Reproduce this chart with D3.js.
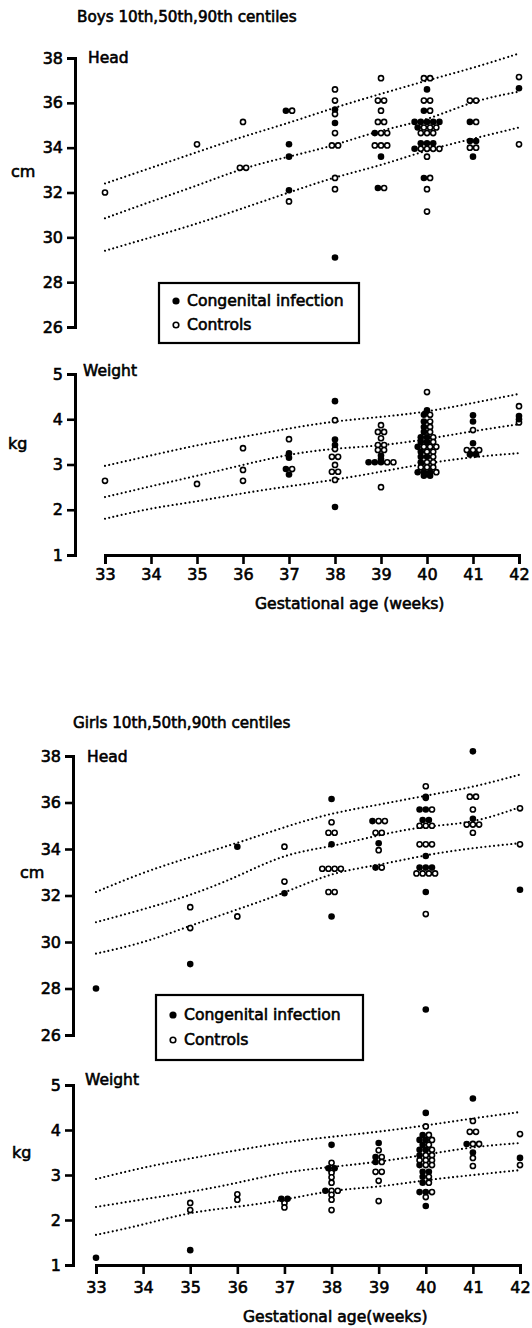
<!DOCTYPE html>
<html><head><meta charset="utf-8">
<script src="https://cdn.jsdelivr.net/npm/d3@7"></script>
<style>
body{margin:0;background:#fff}
svg{display:block}
text{font-family:"DejaVu Sans",sans-serif;fill:#000;stroke:#000;stroke-width:0.6px}
</style>
</head><body>
<svg id="c" width="532" height="1328"></svg>
<script>
// ---------- categories / ticks ----------
const weeks = [33,34,35,36,37,38,39,40,41,42];
const headTicks = [26,28,30,32,34,36,38];
const weightTicks = [1,2,3,4,5];

// ---------- centile curves (10th, 50th, 90th) ----------
const boysHead10 = [29.4,30.0,30.6,31.3,32.0,32.7,33.2,33.9,34.4,34.9];
const boysHead50 = [30.85,31.6,32.3,33.1,33.6,34.1,34.8,35.2,36.1,36.5];
const boysHead90 = [32.4,33.1,33.8,34.5,35.1,35.8,36.4,37.0,37.55,38.2];
const boysWeight10 = [1.8,2.04,2.18,2.37,2.52,2.66,2.84,3.03,3.17,3.25];
const boysWeight50 = [2.28,2.52,2.75,2.99,3.23,3.36,3.41,3.56,3.74,3.89];
const boysWeight90 = [2.97,3.2,3.43,3.61,3.8,3.96,4.05,4.16,4.36,4.56];
const girlsHead10 = [29.5,29.95,30.7,31.4,32.1,33.0,33.3,33.75,34.05,34.25];
const girlsHead50 = [30.85,31.4,32.0,32.8,33.8,34.1,34.6,35.0,35.1,35.8];
const girlsHead90 = [32.15,33.0,33.65,34.25,34.95,35.55,35.9,36.3,36.65,37.2];
const girlsWeight10 = [1.67,1.89,2.18,2.29,2.44,2.67,2.73,2.89,3.0,3.11];
const girlsWeight50 = [2.29,2.46,2.62,2.82,3.07,3.18,3.29,3.45,3.63,3.71];
const girlsWeight90 = [2.91,3.17,3.37,3.55,3.73,3.85,3.96,4.1,4.26,4.4];

// ---------- observations [week, value] ----------
const boysHeadInfection = [
 [37,35.65],[37,34.15],[37,33.6],[37,32.1],
 [38,35.7],[38,35.1],[38,29.1],
 [39,34.65],[39,33.6],[39,32.2],
 [40,36.6],[40,35.65],[40,35.15],[40,35.15],[40,35.15],[40,35.15],[40,35.15],[40,34.9],[40,34.2],[40,34.2],[40,34.2],[40,33.95],[40,32.65],
 [41,35.15],[41,34.3],[41,34.3],[41,33.6],
 [42,36.65]];
const boysHeadControls = [
 [33,32.0],[35,34.15],[36,35.15],[36,33.1],[36,33.1],[37,35.65],[37,31.6],
 [38,36.6],[38,36.1],[38,35.5],[38,34.65],[38,34.1],[38,34.1],[38,32.65],[38,32.15],
 [39,37.1],[39,36.1],[39,36.1],[39,35.65],[39,35.15],[39,35.15],[39,34.65],[39,34.65],[39,34.1],[39,34.1],[39,34.1],[39,32.2],
 [40,37.1],[40,37.1],[40,36.1],[40,36.1],[40,35.65],[40,34.9],[40,34.9],[40,34.9],[40,34.65],[40,34.65],[40,34.65],
 [40,33.95],[40,33.95],[40,33.95],[40,33.95],[40,33.6],[40,32.65],[40,32.15],[40,31.15],
 [41,36.1],[41,36.1],[41,35.15],[41,34.0],[41,34.0],
 [42,37.15],[42,34.15]];
const boysWeightInfection = [
 [37,3.25],[37,3.15],[37,2.9],[37,2.78],
 [38,4.4],[38,3.55],[38,3.43],[38,2.06],
 [39,3.2],[39,3.12],[39,3.05],[39,3.05],[39,3.05],
 [40,4.2],[40,4.1],[40,3.95],[40,3.83],[40,3.72],[40,3.6],[40,3.6],[40,3.5],[40,3.5],[40,3.39],[40,3.28],[40,3.17],[40,3.17],[40,3.05],[40,2.83],[40,2.83],[40,2.83],[40,2.75],[40,2.75],
 [41,4.09],[41,3.95],[41,3.47],[41,3.22],[41,3.22],
 [42,4.07],[42,4.0]];
const boysWeightControls = [
 [33,2.64],[35,2.57],[36,3.36],[36,2.88],[36,2.64],[37,3.56],[37,2.9],
 [38,3.98],[38,3.34],[38,3.17],[38,3.17],[38,2.99],[38,2.84],[38,2.84],[38,2.66],
 [39,3.87],[39,3.72],[39,3.72],[39,3.58],[39,3.43],[39,3.43],[39,3.32],[39,3.32],[39,3.05],[39,3.05],[39,2.5],
 [40,4.6],[40,4.1],[40,3.95],[40,3.83],[40,3.72],[40,3.6],[40,3.5],[40,3.39],[40,3.39],[40,3.39],[40,3.28],[40,3.28],[40,3.17],[40,3.05],[40,3.05],[40,2.94],[40,2.94],[40,2.94],[40,2.83],
 [41,3.76],[41,3.32],[41,3.32],[41,3.32],
 [42,4.29],[42,3.93]];
const girlsHeadInfection = [
 [33,28.0],[35,29.05],[36,34.1],[37,32.1],
 [38,36.15],[38,34.2],[38,31.1],
 [39,35.2],[39,34.25],[39,33.2],
 [40,36.25],[40,35.7],[40,35.7],[40,35.25],[40,35.25],[40,33.7],[40,33.2],[40,33.2],[40,33.2],[40,32.15],[40,27.1],
 [41,38.2],[41,35.3],
 [42,32.25]];
const girlsHeadControls = [
 [35,31.5],[35,30.6],[36,31.1],[37,34.1],[37,32.6],
 [38,35.15],[38,34.7],[38,34.7],[38,33.15],[38,33.15],[38,33.15],[38,33.15],[38,32.15],[38,32.15],
 [39,35.2],[39,35.2],[39,34.7],[39,34.7],[39,33.95],[39,33.2],
 [40,36.7],[40,36.2],[40,35.7],[40,35.0],[40,35.0],[40,35.0],[40,34.2],[40,34.2],[40,34.2],[40,32.95],[40,32.95],[40,32.95],[40,32.95],[40,31.2],
 [41,36.25],[41,36.25],[41,35.7],[41,35.05],[41,35.05],[41,35.05],[41,34.7],
 [42,35.75],[42,34.2]];
const girlsWeightInfection = [
 [33,1.16],[35,1.33],[37,2.47],[37,2.47],
 [38,3.67],[38,3.15],[38,3.15],[38,2.65],
 [39,3.71],[39,3.4],[39,3.29],
 [40,4.38],[40,3.89],[40,3.78],[40,3.78],[40,3.67],[40,3.56],[40,3.56],[40,3.44],[40,3.22],[40,3.07],[40,3.07],[40,2.96],[40,2.83],[40,2.62],[40,2.62],[40,2.31],
 [41,4.7],[41,3.69],[41,3.5],
 [42,3.38]];
const girlsWeightControls = [
 [35,2.38],[35,2.22],[36,2.57],[36,2.45],[37,2.38],[37,2.28],
 [38,3.27],[38,3.1],[38,3.05],[38,2.95],[38,2.83],[38,2.65],[38,2.65],[38,2.56],[38,2.45],[38,2.22],
 [39,3.55],[39,3.4],[39,3.29],[39,3.07],[39,3.07],[39,2.87],[39,2.42],
 [40,4.08],[40,3.89],[40,3.78],[40,3.67],[40,3.56],[40,3.44],[40,3.44],[40,3.33],[40,3.33],[40,3.33],[40,3.22],[40,3.22],[40,2.96],[40,2.83],[40,2.62],[40,2.51],
 [41,4.2],[41,3.96],[41,3.96],[41,3.69],[41,3.69],[41,3.38],[41,3.2],
 [42,3.91],[42,3.22]];

// ---------- drawing ----------
const svg = d3.select("#c");
const STEP = 6.2;

function styleAxis(g){
  g.attr("font-family","DejaVu Sans").attr("font-size",16);
  g.select(".domain").attr("stroke-width",3).attr("stroke-linejoin","miter");
  g.selectAll(".tick line").attr("stroke-width",2.6);
}

function panel(o){
  const g = svg.append("g");
  // centile curves
  const line = d3.line().x((d,i)=>o.x(weeks[i])).y(d=>o.y(d)).curve(d3.curveBasis);
  o.centiles.forEach(c=>{
    g.append("path").attr("d",line(c)).attr("fill","none").attr("stroke","#000")
      .attr("stroke-width",2.1).attr("stroke-linecap","round").attr("stroke-dasharray","0.01 4.3");
  });
  // points (rows of equal value spread side by side)
  const pts = o.infected.map(d=>({w:d[0],v:d[1],f:true}))
     .concat(o.controls.map(d=>({w:d[0],v:d[1],f:false})));
  d3.group(pts, d=>d.w+"|"+d.v).forEach(arr=>arr.forEach((d,i)=>d.dx=(i-(arr.length-1)/2)*STEP));
  const sorted = pts.filter(d=>!d.f).concat(pts.filter(d=>d.f));
  g.selectAll("circle.pt").data(sorted).join("circle").attr("class","pt")
    .attr("cx",d=>o.x(d.w)+d.dx).attr("cy",d=>o.y(d.v))
    .attr("r",d=>d.f?3.3:2.55)
    .attr("fill",d=>d.f?"#000":"#fff").attr("stroke","#000")
    .attr("stroke-width",d=>d.f?0:1.6);
  // y axis
  g.append("g").attr("transform",`translate(${o.axisX},0)`)
    .call(d3.axisLeft(o.y).tickValues(o.ticks).tickSize(8).tickPadding(4).tickFormat(d3.format("d")))
    .call(styleAxis);
  g.append("text").attr("x",o.labelX).attr("y",o.labelY).attr("font-size",15.5).text(o.label);
  g.append("text").attr("x",o.unitX).attr("y",o.unitY).attr("font-size",16).text(o.unit);
  return g;
}

function xAxis(x, y, pad, titleX, titleY, title){
  svg.append("g").attr("transform",`translate(0,${y})`)
    .call(d3.axisBottom(x).tickValues(weeks).tickSize(9).tickPadding(pad).tickFormat(d3.format("d")))
    .call(styleAxis);
  svg.append("text").attr("x",titleX).attr("y",titleY).attr("font-size",15.6).text(title);
}

function legend(x0,y0,w,h,y1,y2){
  svg.append("rect").attr("x",x0).attr("y",y0).attr("width",w).attr("height",h)
    .attr("fill","none").attr("stroke","#000").attr("stroke-width",2.2);
  svg.append("circle").attr("cx",x0+17).attr("cy",y1-5).attr("r",3.6).attr("fill","#000");
  svg.append("circle").attr("cx",x0+17).attr("cy",y2-5).attr("r",2.8).attr("fill","#fff").attr("stroke","#000").attr("stroke-width",1.6);
  svg.append("text").attr("x",x0+28).attr("y",y1).attr("font-size",15.6).text("Congenital infection");
  svg.append("text").attr("x",x0+28).attr("y",y2).attr("font-size",15.6).text("Controls");
}

// ----- Boys -----
const bx = d3.scaleLinear().domain([33,42]).range([105,519]);
const bh = d3.scaleLinear().domain([26,38]).range([327,58]);
const bw = d3.scaleLinear().domain([1,5]).range([555,374]);
svg.append("text").attr("x",77).attr("y",22).attr("font-size",15.2).text("Boys 10th,50th,90th centiles");
panel({x:bx,y:bh,axisX:75,ticks:headTicks,centiles:[boysHead10,boysHead50,boysHead90],
  infected:boysHeadInfection,controls:boysHeadControls,label:"Head",labelX:88,labelY:63,unit:"cm",unitX:11,unitY:177});
legend(159,283,200,60,306,330);
panel({x:bx,y:bw,axisX:75,ticks:weightTicks,centiles:[boysWeight10,boysWeight50,boysWeight90],
  infected:boysWeightInfection,controls:boysWeightControls,label:"Weight",labelX:83,labelY:376,unit:"kg",unitX:8,unitY:449});
xAxis(bx,555,5,255,609,"Gestational age (weeks)");

// ----- Girls -----
const gx = d3.scaleLinear().domain([33,42]).range([96,520]);
const gh = d3.scaleLinear().domain([26,38]).range([1035,756]);
const gw = d3.scaleLinear().domain([1,5]).range([1265,1085]);
svg.append("text").attr("x",73).attr("y",728).attr("font-size",15.2).text("Girls 10th,50th,90th centiles");
panel({x:gx,y:gh,axisX:73,ticks:headTicks,centiles:[girlsHead10,girlsHead50,girlsHead90],
  infected:girlsHeadInfection,controls:girlsHeadControls,label:"Head",labelX:87,labelY:762,unit:"cm",unitX:20,unitY:878});
legend(156,995,207,65,1020,1045);
panel({x:gx,y:gw,axisX:73,ticks:weightTicks,centiles:[girlsWeight10,girlsWeight50,girlsWeight90],
  infected:girlsWeightInfection,controls:girlsWeightControls,label:"Weight",labelX:85,labelY:1085,unit:"kg",unitX:12,unitY:1158});
xAxis(gx,1265,8,243,1322,"Gestational age(weeks)");
</script>
</body></html>
